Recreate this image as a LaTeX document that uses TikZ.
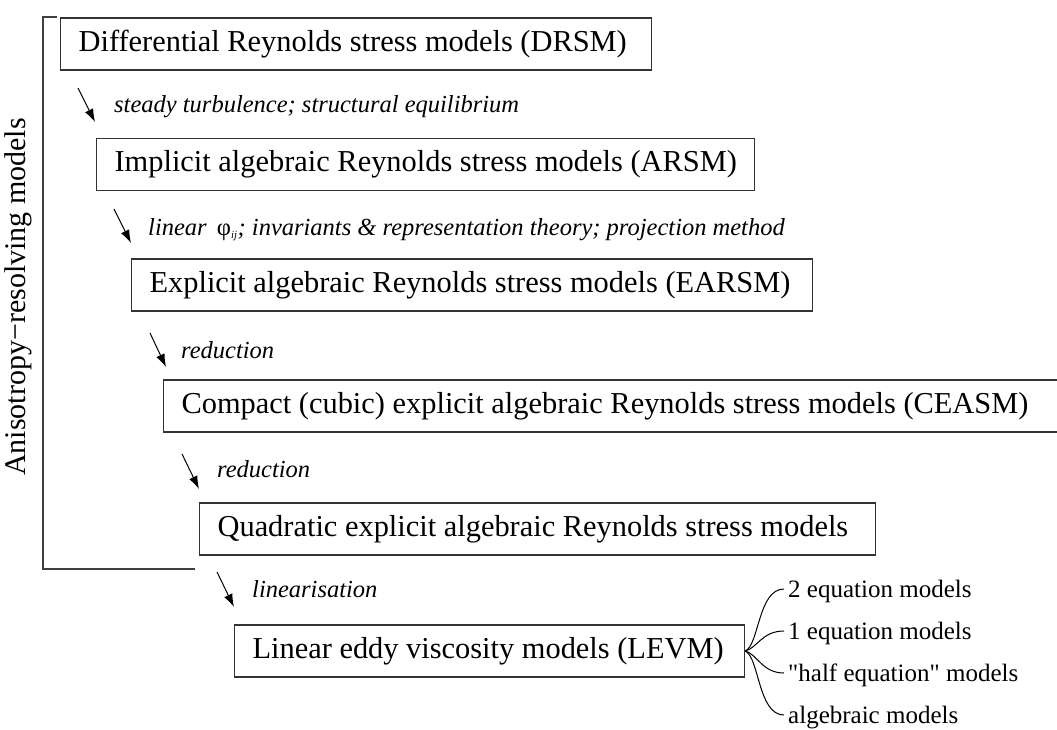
\documentclass[tikz,border=0pt]{standalone}
\usepackage{fontspec}
\setmainfont{Liberation Serif}
\newfontfamily\rawserif{Liberation Serif}
\usetikzlibrary{arrows.meta,calc}
\begin{document}
\begin{tikzpicture}[x=1pt,y=-1pt,
  model/.style={draw=black!80, line width=1.2pt, anchor=west, minimum height=52pt,
    inner xsep=18pt, inner ysep=0pt, align=flush left, font=\fontsize{30.4}{36}\selectfont},
  lbl/.style={anchor=base west, inner sep=0pt, font=\fontsize{24.5}{28}\selectfont\itshape},
  sub/.style={anchor=base west, inner sep=0pt, font=\fontsize{25}{28}\selectfont},
  down/.style={-{Latex[length=13pt,width=9pt]}, line width=1pt},
  branch/.style={line width=1pt},
  bracket/.style={draw=black!75, line width=1.3pt}]
\clip (0,0) rectangle (1057,729);
% bracket and side label
\coordinate (bt) at (57,17);
\coordinate (btc) at (43,17);
\coordinate (bbc) at (43,569);
\coordinate (bb) at (195,569);
\draw[bracket] (bt) -- (btc) -- (bbc) -- (bb);
\node[rotate=90, inner sep=0pt, font=\fontsize{30}{36}\selectfont] (side) at (18,297) {Anisotropy−resolving models};
% boxes
\node[model, text width=555pt] (b1) at (60,44) {\mbox{Differential Reynolds stress models (DRSM)}};
\node[model, text width=622pt] (b2) at (96,164.5) {\mbox{Implicit algebraic Reynolds stress models (ARSM)}};
\node[model, text width=645pt] (b3) at (131,285) {\mbox{Explicit algebraic Reynolds stress models (EARSM)}};
\node[model, text width=960pt] (b4) at (163,406) {\mbox{Compact (cubic) explicit algebraic Reynolds stress models (CEASM)}};
\node[model, text width=640pt] (b5) at (199,529) {\mbox{Quadratic explicit algebraic Reynolds stress models}};
\node[model, text width=474pt] (b6) at (234,651) {\mbox{Linear eddy viscosity models (LEVM)}};
% arrows
\coordinate (a1s) at (78,88);   \coordinate (a1e) at (95,122);
\coordinate (a2s) at (114,209); \coordinate (a2e) at (131,243);
\coordinate (a3s) at (150,333); \coordinate (a3e) at (166,367);
\coordinate (a4s) at (182,454); \coordinate (a4e) at (199,489);
\coordinate (a5s) at (217,572); \coordinate (a5e) at (234,607);
\draw[down] (a1s) -- (a1e);
\draw[down] (a2s) -- (a2e);
\draw[down] (a3s) -- (a3e);
\draw[down] (a4s) -- (a4e);
\draw[down] (a5s) -- (a5e);
% labels
\node[lbl] (l1) at (114,112) {steady turbulence; structural equilibrium};
\node[lbl] (l2) at (148,235) {linear \,{\upshape φ}\textsubscript{\fontsize{11}{11}\selectfont ij}; invariants \& representation theory; projection method};
\node[lbl] (l3) at (181,358) {reduction};
\node[lbl] (l4) at (217,477) {reduction};
\node[lbl] (l5) at (252,597) {linearisation};
% sub-models
\node[sub] (t1) at (788,597) {2 equation models};
\node[sub] (t2) at (788,639) {1 equation models};
\node[sub] (t3) at (788,681) {{\rawserif\symbol{34}}half equation{\rawserif\symbol{34}} models};
\node[sub] (t4) at (788,723) {algebraic models};
\draw[branch] (b6.east) .. controls +(14,-6) and +(-26,0) .. ($(t1.base west)+(-4,-8)$);
\draw[branch] (b6.east) .. controls +(12,-3) and +(-22,0) .. ($(t2.base west)+(-4,-8)$);
\draw[branch] (b6.east) .. controls +(12,3) and +(-22,0) .. ($(t3.base west)+(-4,-8)$);
\draw[branch] (b6.east) .. controls +(14,6) and +(-26,0) .. ($(t4.base west)+(-4,-8)$);
\end{tikzpicture}
\end{document}
